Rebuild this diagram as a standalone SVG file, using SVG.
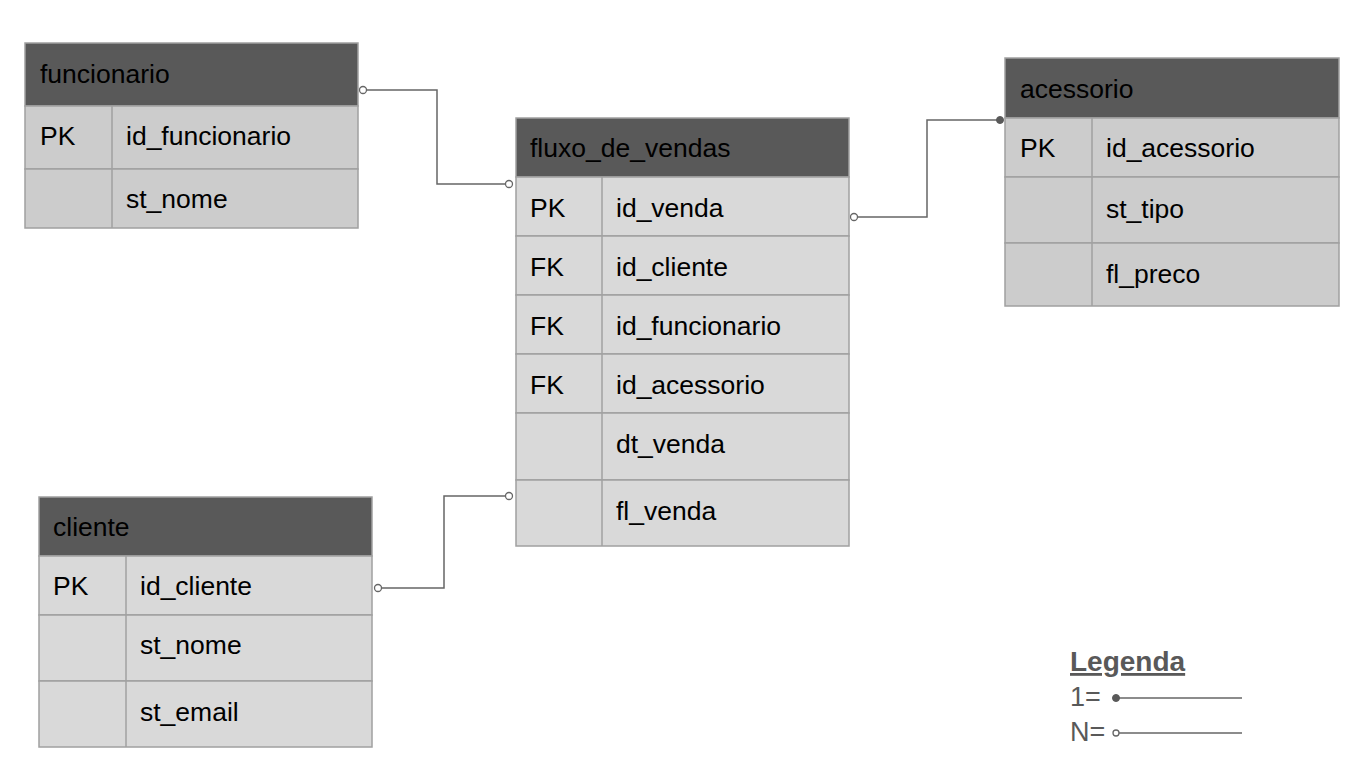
<svg xmlns="http://www.w3.org/2000/svg" width="1366" height="768" viewBox="0 0 1366 768">
<style>
.hd{fill:#595959;stroke:#a0a0a0;stroke-width:1.5}
.ra{fill:#cccccc;stroke:#a0a0a0;stroke-width:1.5}
.rb{fill:#d9d9d9;stroke:#a0a0a0;stroke-width:1.5}
.dv{stroke:#a0a0a0;stroke-width:1.5}
text{font-family:"Liberation Sans",Arial,sans-serif;font-size:26.5px;fill:#000}
.cn{fill:none;stroke:#666;stroke-width:1.5}
.oc{fill:#fff;stroke:#666;stroke-width:1.3}
.fc{fill:#595959;stroke:#595959}
.lg{fill:#595959;font-size:27px}
</style>
<rect width="1366" height="768" fill="#fff"/>
<g id="connectors">
<polyline class="cn" points="363,90 437,90 437,184 509,184"/>
<polyline class="cn" points="854,217 927,217 927,120 1000,120"/>
<polyline class="cn" points="378,588 444,588 444,496 509,496"/>
<circle class="oc" cx="363" cy="90" r="3.5"/>
<circle class="oc" cx="509" cy="184" r="3.5"/>
<circle class="oc" cx="854" cy="217" r="3.5"/>
<circle class="fc" cx="1000" cy="120" r="3.5"/>
<circle class="oc" cx="378" cy="588" r="3.5"/>
<circle class="oc" cx="509" cy="496" r="3.5"/>
</g>
<g id="funcionario">
<rect class="hd" x="25" y="43" width="333" height="63"/>
<rect class="ra" x="25" y="106" width="333" height="63"/>
<rect class="ra" x="25" y="169" width="333" height="59"/>
<line class="dv" x1="112" y1="106" x2="112" y2="228"/>
<text x="40" y="83">funcionario</text>
<text x="40" y="145">PK</text>
<text x="126" y="145">id_funcionario</text>
<text x="126" y="208">st_nome</text>
</g>
<g id="fluxo_de_vendas">
<rect class="hd" x="516" y="118" width="333" height="59"/>
<rect class="rb" x="516" y="177" width="333" height="59"/>
<rect class="rb" x="516" y="236" width="333" height="59"/>
<rect class="rb" x="516" y="295" width="333" height="59"/>
<rect class="rb" x="516" y="354" width="333" height="59"/>
<rect class="rb" x="516" y="413" width="333" height="67"/>
<rect class="rb" x="516" y="480" width="333" height="66"/>
<line class="dv" x1="602" y1="177" x2="602" y2="546"/>
<text x="530" y="157">fluxo_de_vendas</text>
<text x="530" y="217">PK</text>
<text x="616" y="217">id_venda</text>
<text x="530" y="276">FK</text>
<text x="616" y="276">id_cliente</text>
<text x="530" y="335">FK</text>
<text x="616" y="335">id_funcionario</text>
<text x="530" y="394">FK</text>
<text x="616" y="394">id_acessorio</text>
<text x="616" y="453">dt_venda</text>
<text x="616" y="520">fl_venda</text>
</g>
<g id="acessorio">
<rect class="hd" x="1005" y="58" width="334" height="60"/>
<rect class="ra" x="1005" y="118" width="334" height="59"/>
<rect class="ra" x="1005" y="177" width="334" height="66"/>
<rect class="ra" x="1005" y="243" width="334" height="63"/>
<line class="dv" x1="1092" y1="118" x2="1092" y2="306"/>
<text x="1020" y="98">acessorio</text>
<text x="1020" y="157">PK</text>
<text x="1106" y="157">id_acessorio</text>
<text x="1106" y="218">st_tipo</text>
<text x="1106" y="283">fl_preco</text>
</g>
<g id="cliente">
<rect class="hd" x="39" y="497" width="333" height="59"/>
<rect class="rb" x="39" y="556" width="333" height="59"/>
<rect class="rb" x="39" y="615" width="333" height="66"/>
<rect class="rb" x="39" y="681" width="333" height="66"/>
<line class="dv" x1="126" y1="556" x2="126" y2="747"/>
<text x="53" y="536">cliente</text>
<text x="53" y="595">PK</text>
<text x="140" y="595">id_cliente</text>
<text x="140" y="654">st_nome</text>
<text x="140" y="721">st_email</text>
</g>
<g id="legenda">
<text class="lg" x="1070" y="671" font-weight="bold" font-size="28" text-decoration="underline" style="font-size:28px">Legenda</text>
<text class="lg" x="1070" y="706">1=</text>
<text class="lg" x="1070" y="741">N=</text>
<line class="cn" x1="1116" y1="698" x2="1242" y2="698"/>
<circle class="fc" cx="1116" cy="698" r="3.5"/>
<line class="cn" x1="1116" y1="733" x2="1242" y2="733"/>
<circle class="oc" cx="1116" cy="733" r="3"/>
</g>
</svg>
